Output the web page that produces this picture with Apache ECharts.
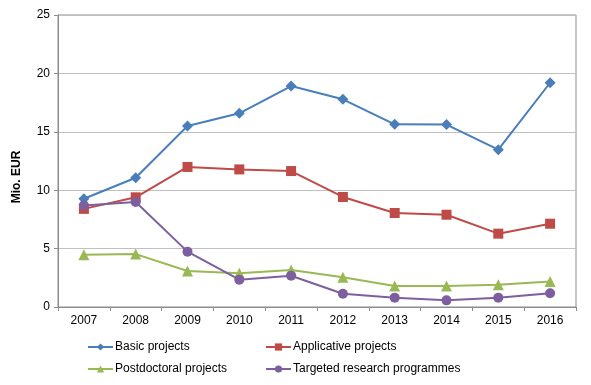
<!DOCTYPE html>
<html><head><meta charset="utf-8">
<script src="https://cdn.jsdelivr.net/npm/echarts@6/dist/echarts.min.js"></script>
<style>html,body{margin:0;padding:0;background:#fff}#c{width:591px;height:385px}</style>
</head><body><div id="c"></div>
<script>
const years = ['2007','2008','2009','2010','2011','2012','2013','2014','2015','2016'];
const basic = [9.27, 11.07, 15.5, 16.58, 18.92, 17.78, 15.64, 15.62, 13.47, 19.2];
const applicative = [8.4, 9.39, 11.99, 11.78, 11.64, 9.42, 8.05, 7.9, 6.28, 7.13];
const postdoc = [4.47, 4.53, 3.08, 2.88, 3.17, 2.55, 1.8, 1.8, 1.9, 2.18];
const targeted = [8.7, 8.99, 4.74, 2.34, 2.68, 1.14, 0.8, 0.57, 0.8, 1.17];
const yTicks = [0, 5, 10, 15, 20, 25];

const font = 'Liberation Sans, Arial, sans-serif';
const chart = echarts.init(document.getElementById('c'));
function ser(name, data, color, symbol, size) {
  return {name, type:'line', data, symbol, symbolSize:size, showSymbol:true,
    lineStyle:{color, width:2}, itemStyle:{color}, animation:false};
}
function leg(name, left, top) {
  return {data:[name], left, top, orient:'horizontal', itemWidth:25, itemHeight:9, itemGap:0,
    textStyle:{fontFamily:font, fontSize:12, color:'#000', padding:[0,0,0,-3]}, padding:0, selectedMode:false};
}
chart.setOption({
  animation:false,
  grid:{left:58, right:15, top:15, bottom:78, show:true, borderColor:'#8c8c8c', borderWidth:1},
  xAxis:{type:'category', data:years, boundaryGap:true,
    axisLine:{lineStyle:{color:'#8c8c8c'}}, axisTick:{show:true, length:4, lineStyle:{color:'#8c8c8c'}},
    axisLabel:{fontFamily:font, fontSize:12, color:'#000', margin:8}},
  yAxis:{type:'value', min:0, max:25, interval:5,
    axisLine:{show:true, lineStyle:{color:'#8c8c8c'}}, axisTick:{show:true, length:4, lineStyle:{color:'#8c8c8c'}},
    splitLine:{lineStyle:{color:'#c0c0c0'}},
    axisLabel:{fontFamily:font, fontSize:12, color:'#000', margin:8,
      formatter:v => yTicks.includes(v) ? String(v) : ''}},
  legend:[leg('Basic projects',87,341), leg('Applicative projects',265,341),
          leg('Postdoctoral projects',87,363), leg('Targeted research programmes',265,363)],
  graphic:[{type:'text', rotation:Math.PI/2, x:17, y:177,
    style:{text:'Mio. EUR', font:'bold 12px ' + font, fill:'#000', textAlign:'center', textVerticalAlign:'middle'}}],
  series:[
    ser('Basic projects', basic, '#4a7ebb', 'diamond', 11),
    ser('Applicative projects', applicative, '#be4b48', 'rect', 10),
    ser('Postdoctoral projects', postdoc, '#98b954', 'triangle', 11),
    ser('Targeted research programmes', targeted, '#7d5fa0', 'circle', 10)
  ]
});
</script></body></html>
